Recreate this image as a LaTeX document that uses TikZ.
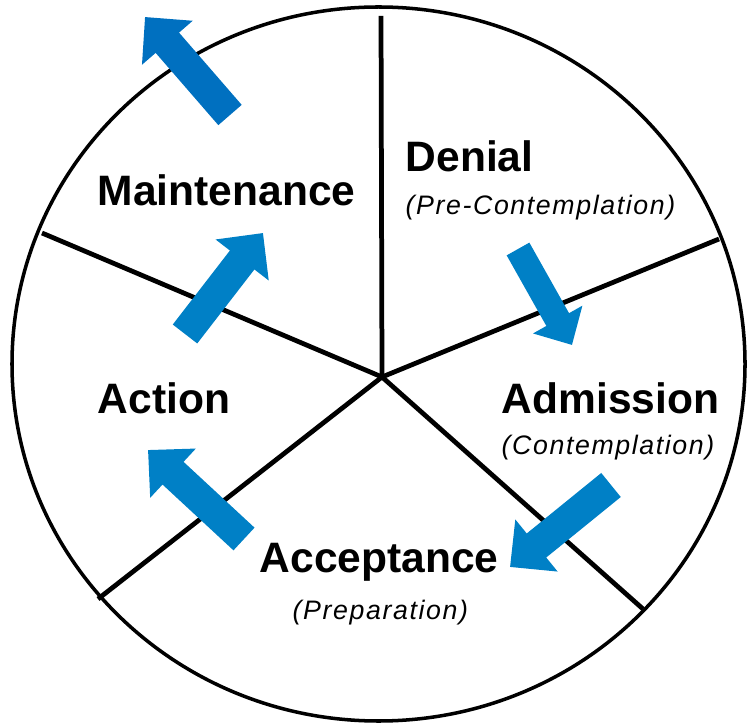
\documentclass[tikz,border=0pt]{standalone}
\usepackage{fontspec}
\setmainfont{Liberation Sans}
\usetikzlibrary{arrows.meta}
\definecolor{stageblue}{RGB}{0,128,198}
\definecolor{exitblue}{RGB}{0,112,192}

\begin{document}
\begin{tikzpicture}[x=0.01cm, y=-0.01cm,
	stage/.style={anchor=base west, inner sep=0pt, font=\fontsize{12.1}{14}\selectfont\bfseries},
	substage/.style={anchor=base west, inner sep=0pt, font=\fontsize{7.6}{9}\selectfont\itshape\addfontfeatures{LetterSpace=6}},
	rim/.style={line width=1pt},
	spoke/.style={line width=1.35pt},
	move/.style={stageblue, line width=8.8pt, -{Triangle[width=18.5pt, length=9.7pt]}},
	smallmove/.style={move, line width=7.4pt, -{Triangle[width=15.6pt, length=8.3pt]}}]
\useasboundingbox (0,0) rectangle (749,725);
\draw[rim] (378.5,364) ellipse [x radius=366.5, y radius=357];
\coordinate (hub) at (382,377);
\foreach \n/\x/\y in {top/381/16, right/719/239, lowright/643/609, lowleft/98/599, upleft/42/233}
{
	\coordinate (\n) at (\x,\y);
	\draw[spoke] (hub) -- (\n);
}
\node[stage] (denial) at (405,172) {Denial};
\node[substage] (precont) at (405,215) {(Pre-Contemplation)};
\node[stage] (admission) at (501,413) {Admission};
\node[substage] (cont) at (501,455) {(Contemplation)};
\node[stage] (acceptance) at (259,572) {Acceptance};
\node[substage] (prep) at (292,619) {(Preparation)};
\node[stage] (action) at (97,413) {Action};
\node[stage] (maintenance) at (97,206) {Maintenance};
% arrows between stages
\coordinate (t1) at (518,249); \coordinate (h1) at (572,345);
\coordinate (t2) at (611,485); \coordinate (h2) at (510,567);
\coordinate (t3) at (244,539); \coordinate (h3) at (148,450);
\coordinate (t4) at (185,334); \coordinate (h4) at (263,233);
\coordinate (t5) at (230,115); \coordinate (h5) at (145,17);
\draw[smallmove] (t1) -- (h1);
\draw[move] (t2) -- (h2);
\draw[move] (t3) -- (h3);
\draw[move] (t4) -- (h4);
\draw[move, exitblue] (t5) -- (h5);
\end{tikzpicture}
\end{document}
